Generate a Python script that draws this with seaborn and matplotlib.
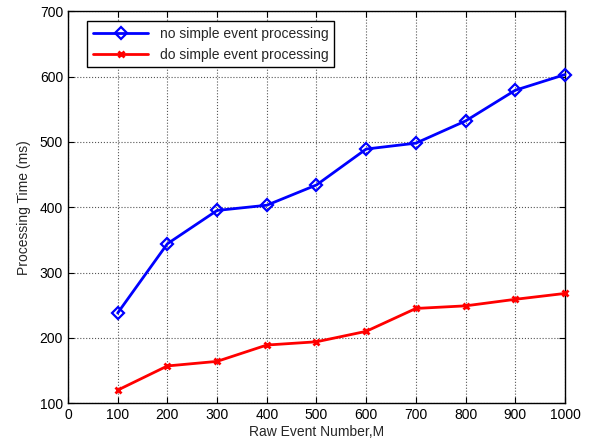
import numpy as np
import pandas as pd
import matplotlib
matplotlib.use("Agg")
import matplotlib.pyplot as plt
import seaborn as sns

# values
event_number = [100, 200, 300, 400, 500, 600, 700, 800, 900, 1000]
no_simple = [238, 344, 395, 403, 434, 489, 498, 532, 579, 603]
do_simple = [120, 157, 164, 189, 194, 210, 245, 249, 259, 268]
series_names = ["no simple event processing", "do simple event processing"]
x_ticks = [0, 100, 200, 300, 400, 500, 600, 700, 800, 900, 1000]
y_ticks = [100, 200, 300, 400, 500, 600, 700]

sns.set_style("ticks")
plt.rcParams["font.family"] = ["Liberation Sans", "DejaVu Sans"]
plt.rcParams["font.size"] = 10

df = pd.DataFrame({
    "x": event_number * 2,
    "y": no_simple + do_simple,
    "series": [series_names[0]] * len(event_number) + [series_names[1]] * len(event_number),
})

fig = plt.figure(figsize=(5.91, 4.47), dpi=100)
ax = fig.add_axes([0.115, 0.098, 0.841, 0.877])

sns.lineplot(data=df[df.series == series_names[0]], x="x", y="y", ax=ax,
             color="#0000ff", lw=2, marker="D", markersize=6.5,
             markerfacecolor="none", markeredgecolor="#0000ff", markeredgewidth=1.6,
             label=series_names[0], clip_on=False, zorder=3)
sns.lineplot(data=df[df.series == series_names[1]], x="x", y="y", ax=ax,
             color="#ff0000", lw=2, marker="x", markersize=5,
             markeredgecolor="#ff0000", markeredgewidth=2,
             label=series_names[1], clip_on=False, zorder=3)

ax.set_xlim(0, 1000)
ax.set_ylim(100, 700)
ax.set_xticks(x_ticks)
ax.set_yticks(y_ticks)
ax.grid(True, color="#555555", linestyle=":", linewidth=0.8)
ax.tick_params(direction="in", top=True, right=True, length=4, labelsize=10, colors="black")
for s in ax.spines.values():
    s.set_visible(True)
    s.set_color("black")
    s.set_linewidth(1)

ax.set_xlabel("Raw Event Number,M", fontsize=10, labelpad=2)
ax.set_ylabel("Processing Time (ms)", fontsize=10, labelpad=6)

leg = ax.legend(loc="upper left", bbox_to_anchor=(0.025, 0.992), fancybox=False,
                framealpha=1, edgecolor="black", fontsize=10, handlelength=4.0,
                borderpad=0.4, labelspacing=0.5)
leg.get_frame().set_linewidth(1)

fig.savefig("out.png", dpi=100)
